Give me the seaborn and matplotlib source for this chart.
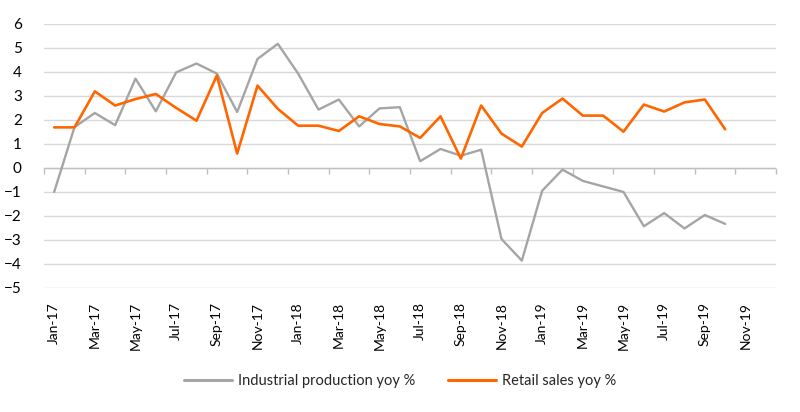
import matplotlib
matplotlib.use("Agg")
import matplotlib.pyplot as plt
import seaborn as sns
import numpy as np
import pandas as pd

months = [m + "-" + y for y in ["17", "18", "19"]
          for m in ["Jan", "Feb", "Mar", "Apr", "May", "Jun",
                    "Jul", "Aug", "Sep", "Oct", "Nov", "Dec"]]

industrial = [-1.0, 1.7, 2.29, 1.78, 3.72, 2.36, 3.98, 4.35, 3.93, 2.33, 4.54, 5.17,
              3.93, 2.43, 2.85, 1.73, 2.48, 2.53, 0.28, 0.79, 0.51, 0.76, -2.96, -3.86,
              -0.95, -0.07, -0.54, -0.77, -1.0, -2.43, -1.88, -2.52, -1.96, -2.33]
retail = [1.69, 1.69, 3.19, 2.6, 2.87, 3.08, 2.5, 1.97, 3.85, 0.6, 3.43, 2.46,
          1.76, 1.76, 1.54, 2.15, 1.83, 1.73, 1.25, 2.15, 0.39, 2.6, 1.43, 0.89,
          2.29, 2.89, 2.18, 2.18, 1.51, 2.64, 2.35, 2.73, 2.85, 1.61]

series_names = ["Industrial production yoy %", "Retail sales yoy %"]
series_colors = ["#A5A5A5", "#FF6600"]

df = pd.DataFrame({
    "pos": list(range(len(industrial))) * 2,
    "value": industrial + retail,
    "series": [series_names[0]] * len(industrial) + [series_names[1]] * len(retail),
})

sns.set_style("white")
plt.rcParams["font.family"] = ["Lato", "DejaVu Sans"]

fig = plt.figure(figsize=(8, 4.12), dpi=100)
ax = fig.add_axes([0.055, 0.301, 0.915, 0.641])

sns.lineplot(data=df, x="pos", y="value", hue="series",
             palette=dict(zip(series_names, series_colors)),
             linewidth=1.9, ax=ax, legend=False)
ax.lines[0].set_linewidth(1.7)

ax.set_xlim(-0.5, len(months) - 0.5)
ax.set_ylim(-5, 6)
ax.set_yticks(range(-5, 7))
ax.yaxis.grid(True, color="#D9D9D9", linewidth=1.0)
ax.xaxis.grid(False)
ax.set_axisbelow(True)
for s in ax.spines.values():
    s.set_visible(False)
ax.axhline(0, color="#BFBFBF", linewidth=1.0, zorder=1)

ax.set_xticks(range(0, len(months), 2))
ax.set_xticklabels(months[::2], rotation=90, fontsize=10, color="#000000")
ax.tick_params(axis="x", length=0, pad=10)
ax.tick_params(axis="y", length=0, pad=16, labelsize=11, labelcolor="#000000")
ax.set_xlabel("")
ax.set_ylabel("")

# tick marks on the zero line between every two months
sec = ax.secondary_xaxis(5 / 11)
sec.set_xticks(np.arange(-0.5, len(months), 2))
sec.set_xticklabels([])
sec.tick_params(axis="x", direction="out", length=4, color="#BFBFBF", width=1.0)
sec.spines["bottom"].set_visible(False)
sec.spines["top"].set_visible(False)

handles = [plt.Line2D([], [], color=c, linewidth=2.2) for c in series_colors]
fig.legend(handles, series_names, loc="center", bbox_to_anchor=(0.5, 0.075),
           ncol=2, frameon=False, fontsize=10.5, handlelength=3.3,
           columnspacing=2.2, handletextpad=0.4)

fig.savefig("out.png", dpi=100)
